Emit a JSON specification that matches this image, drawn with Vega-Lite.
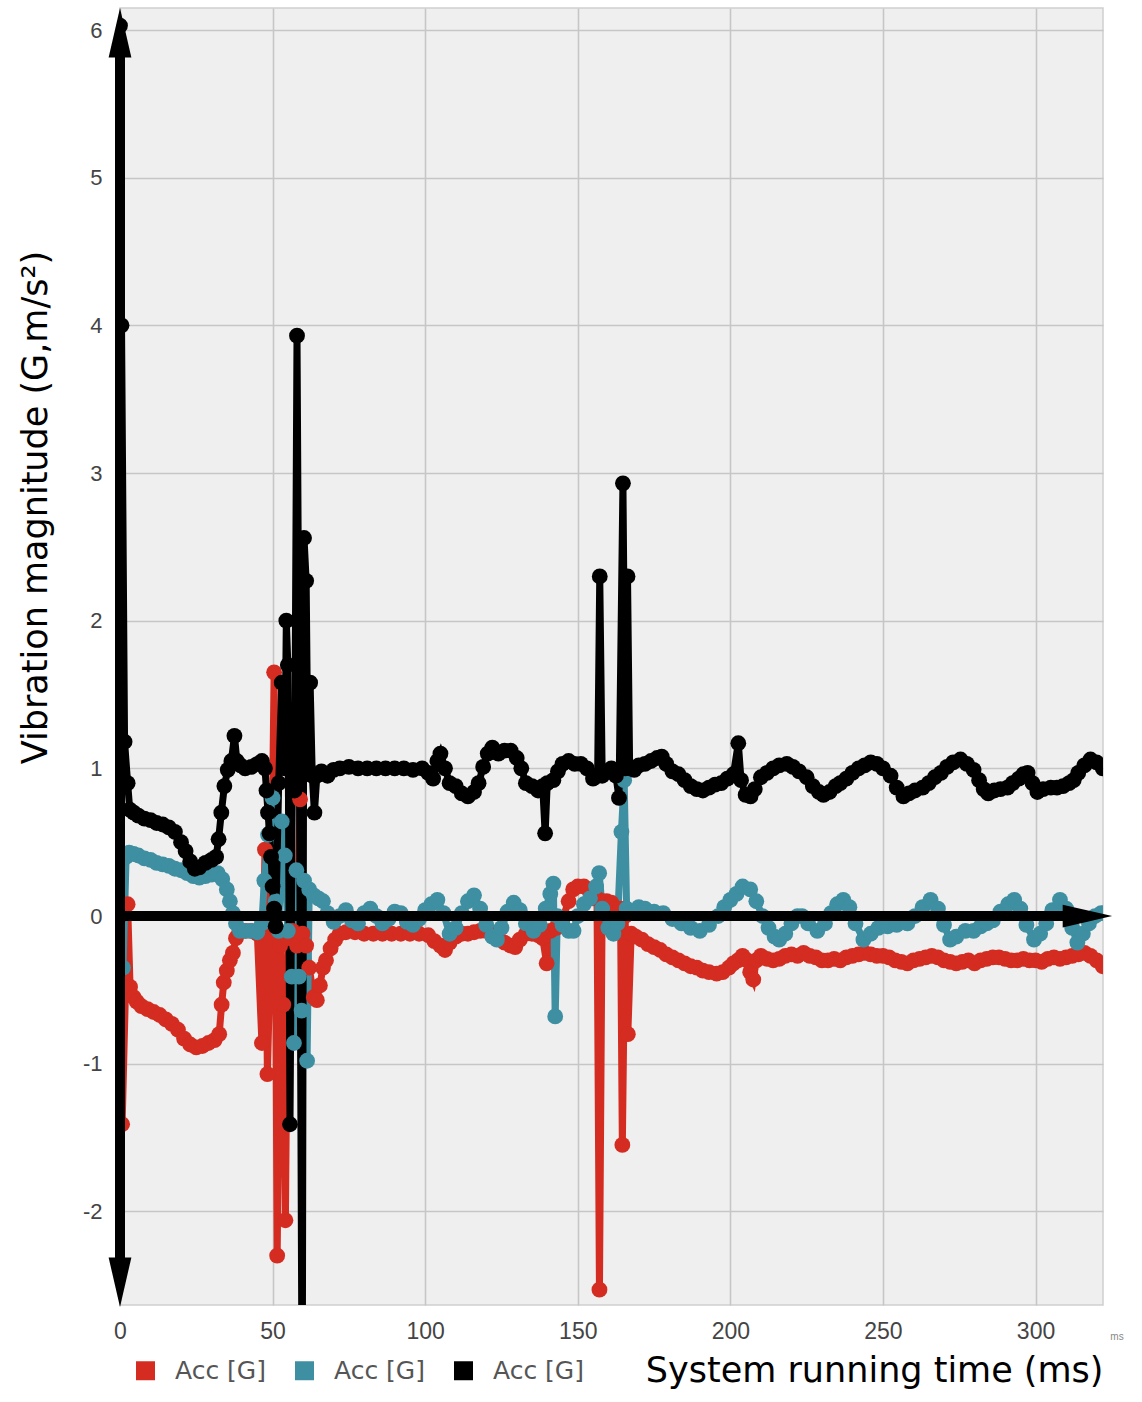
{
"$schema": "https://vega.github.io/schema/vega-lite/v6.json",
"autosize": {"type": "none"},
"width": 983,
"height": 1297,
"padding": {"left": 120, "top": 8, "right": 39, "bottom": 97},
"background": "#ffffff",
"config": {
  "view": {"fill": "#efefef", "stroke": "#cfcfcf", "strokeWidth": 1.5},
  "axis": {"gridColor": "#c6c6c6", "gridWidth": 1.6, "domain": false, "ticks": false, "labelFlush": false}
},
"datasets": {
"acc": [
{"s":"s1","t":0,"v":0},{"s":"s1","t":0.7,"v":-1.41},{"s":"s1","t":2.5,"v":0.08},{"s":"s1","t":3.3,"v":-0.48},{"s":"s1","t":4.5,"v":-0.55},{"s":"s1","t":5.5,"v":-0.58},{"s":"s1","t":7,"v":-0.61},{"s":"s1","t":9,"v":-0.63},{"s":"s1","t":11,"v":-0.65},{"s":"s1","t":13,"v":-0.67},{"s":"s1","t":15,"v":-0.7},{"s":"s1","t":17,"v":-0.73},{"s":"s1","t":19,"v":-0.77},{"s":"s1","t":21,"v":-0.83},{"s":"s1","t":23,"v":-0.87},{"s":"s1","t":25,"v":-0.89},{"s":"s1","t":27,"v":-0.88},{"s":"s1","t":29,"v":-0.86},{"s":"s1","t":31,"v":-0.84},{"s":"s1","t":32.5,"v":-0.8},{"s":"s1","t":33.3,"v":-0.6},{"s":"s1","t":34,"v":-0.45},{"s":"s1","t":35,"v":-0.37},{"s":"s1","t":36,"v":-0.3},{"s":"s1","t":37,"v":-0.25},{"s":"s1","t":38,"v":-0.15},{"s":"s1","t":39,"v":-0.11},{"s":"s1","t":41,"v":-0.1},{"s":"s1","t":43,"v":-0.1},{"s":"s1","t":45,"v":-0.12},{"s":"s1","t":46.5,"v":-0.86},{"s":"s1","t":47.5,"v":0.45},{"s":"s1","t":48.3,"v":-1.07},{"s":"s1","t":49.5,"v":-0.05},{"s":"s1","t":50.5,"v":1.65},{"s":"s1","t":51.5,"v":-2.3},{"s":"s1","t":52.5,"v":-0.2},{"s":"s1","t":53.5,"v":-0.6},{"s":"s1","t":54.2,"v":-2.06},{"s":"s1","t":55,"v":-0.15},{"s":"s1","t":56.5,"v":-0.1},{"s":"s1","t":58,"v":-0.2},{"s":"s1","t":59,"v":0.79},{"s":"s1","t":59.8,"v":-0.12},{"s":"s1","t":61,"v":-0.2},{"s":"s1","t":62,"v":-0.35},{"s":"s1","t":63.5,"v":-0.55},{"s":"s1","t":64.5,"v":-0.57},{"s":"s1","t":65.5,"v":-0.47},{"s":"s1","t":66.5,"v":-0.35},{"s":"s1","t":67.5,"v":-0.3},{"s":"s1","t":69,"v":-0.22},{"s":"s1","t":70.5,"v":-0.16},{"s":"s1","t":72,"v":-0.12},{"s":"s1","t":74,"v":-0.11},{"s":"s1","t":77,"v":-0.11},{"s":"s1","t":80,"v":-0.12},{"s":"s1","t":83,"v":-0.12},{"s":"s1","t":86,"v":-0.12},{"s":"s1","t":89,"v":-0.12},{"s":"s1","t":92,"v":-0.12},{"s":"s1","t":95,"v":-0.12},{"s":"s1","t":98,"v":-0.12},{"s":"s1","t":101,"v":-0.13},{"s":"s1","t":103,"v":-0.17},{"s":"s1","t":105,"v":-0.2},{"s":"s1","t":106.5,"v":-0.23},{"s":"s1","t":108,"v":-0.18},{"s":"s1","t":110,"v":-0.14},{"s":"s1","t":112,"v":-0.12},{"s":"s1","t":114,"v":-0.12},{"s":"s1","t":116,"v":-0.11},{"s":"s1","t":118,"v":-0.1},{"s":"s1","t":120,"v":-0.1},{"s":"s1","t":122,"v":-0.12},{"s":"s1","t":124,"v":-0.15},{"s":"s1","t":126,"v":-0.18},{"s":"s1","t":128,"v":-0.2},{"s":"s1","t":129.5,"v":-0.21},{"s":"s1","t":131,"v":-0.16},{"s":"s1","t":133,"v":-0.12},{"s":"s1","t":135,"v":-0.12},{"s":"s1","t":137,"v":-0.13},{"s":"s1","t":138.5,"v":-0.15},{"s":"s1","t":139.8,"v":-0.32},{"s":"s1","t":141,"v":-0.1},{"s":"s1","t":143,"v":-0.08},{"s":"s1","t":145,"v":-0.02},{"s":"s1","t":147,"v":0.1},{"s":"s1","t":148.5,"v":0.18},{"s":"s1","t":150,"v":0.2},{"s":"s1","t":152,"v":0.2},{"s":"s1","t":153.5,"v":0.18},{"s":"s1","t":155,"v":0.12},{"s":"s1","t":156.3,"v":0.12},{"s":"s1","t":157.1,"v":-2.53},{"s":"s1","t":158,"v":0.1},{"s":"s1","t":159.5,"v":0.1},{"s":"s1","t":161,"v":0.09},{"s":"s1","t":162.5,"v":0.05},{"s":"s1","t":164,"v":0.05},{"s":"s1","t":164.6,"v":-1.55},{"s":"s1","t":165.5,"v":0},{"s":"s1","t":166.4,"v":-0.8},{"s":"s1","t":167.5,"v":-0.12},{"s":"s1","t":169,"v":-0.14},{"s":"s1","t":171,"v":-0.16},{"s":"s1","t":173,"v":-0.19},{"s":"s1","t":175,"v":-0.21},{"s":"s1","t":177,"v":-0.23},{"s":"s1","t":179,"v":-0.26},{"s":"s1","t":181,"v":-0.28},{"s":"s1","t":183,"v":-0.3},{"s":"s1","t":185,"v":-0.32},{"s":"s1","t":187,"v":-0.34},{"s":"s1","t":189,"v":-0.35},{"s":"s1","t":191,"v":-0.37},{"s":"s1","t":193,"v":-0.38},{"s":"s1","t":195.5,"v":-0.39},{"s":"s1","t":197.5,"v":-0.38},{"s":"s1","t":199.5,"v":-0.35},{"s":"s1","t":201,"v":-0.32},{"s":"s1","t":202.5,"v":-0.3},{"s":"s1","t":204,"v":-0.27},{"s":"s1","t":205.5,"v":-0.3},{"s":"s1","t":206.5,"v":-0.38},{"s":"s1","t":207.5,"v":-0.43},{"s":"s1","t":208.5,"v":-0.3},{"s":"s1","t":210,"v":-0.27},{"s":"s1","t":212,"v":-0.29},{"s":"s1","t":214,"v":-0.3},{"s":"s1","t":216,"v":-0.29},{"s":"s1","t":218,"v":-0.27},{"s":"s1","t":220,"v":-0.26},{"s":"s1","t":222,"v":-0.27},{"s":"s1","t":224,"v":-0.25},{"s":"s1","t":226,"v":-0.27},{"s":"s1","t":228,"v":-0.28},{"s":"s1","t":230,"v":-0.3},{"s":"s1","t":232,"v":-0.3},{"s":"s1","t":234,"v":-0.29},{"s":"s1","t":236,"v":-0.3},{"s":"s1","t":238,"v":-0.28},{"s":"s1","t":240,"v":-0.27},{"s":"s1","t":242,"v":-0.26},{"s":"s1","t":244,"v":-0.25},{"s":"s1","t":246,"v":-0.26},{"s":"s1","t":248,"v":-0.27},{"s":"s1","t":250,"v":-0.27},{"s":"s1","t":252,"v":-0.28},{"s":"s1","t":254,"v":-0.3},{"s":"s1","t":256,"v":-0.31},{"s":"s1","t":258,"v":-0.32},{"s":"s1","t":260,"v":-0.3},{"s":"s1","t":262,"v":-0.29},{"s":"s1","t":264,"v":-0.28},{"s":"s1","t":266,"v":-0.27},{"s":"s1","t":268,"v":-0.28},{"s":"s1","t":270,"v":-0.3},{"s":"s1","t":272,"v":-0.31},{"s":"s1","t":274,"v":-0.32},{"s":"s1","t":276,"v":-0.31},{"s":"s1","t":278,"v":-0.3},{"s":"s1","t":280,"v":-0.32},{"s":"s1","t":282,"v":-0.3},{"s":"s1","t":284,"v":-0.29},{"s":"s1","t":286,"v":-0.28},{"s":"s1","t":288,"v":-0.28},{"s":"s1","t":290,"v":-0.29},{"s":"s1","t":292,"v":-0.3},{"s":"s1","t":294,"v":-0.3},{"s":"s1","t":296,"v":-0.29},{"s":"s1","t":298,"v":-0.3},{"s":"s1","t":300,"v":-0.3},{"s":"s1","t":302,"v":-0.31},{"s":"s1","t":304,"v":-0.29},{"s":"s1","t":306,"v":-0.28},{"s":"s1","t":308,"v":-0.29},{"s":"s1","t":310,"v":-0.28},{"s":"s1","t":312,"v":-0.27},{"s":"s1","t":314,"v":-0.26},{"s":"s1","t":316,"v":-0.25},{"s":"s1","t":318,"v":-0.27},{"s":"s1","t":320,"v":-0.3},{"s":"s1","t":322,"v":-0.34},
{"s":"s2","t":0,"v":0.25},{"s":"s2","t":1,"v":-0.35},{"s":"s2","t":2,"v":0.4},{"s":"s2","t":3,"v":0.43},{"s":"s2","t":4.5,"v":0.42},{"s":"s2","t":6,"v":0.41},{"s":"s2","t":8,"v":0.39},{"s":"s2","t":10,"v":0.38},{"s":"s2","t":12,"v":0.36},{"s":"s2","t":14,"v":0.35},{"s":"s2","t":16,"v":0.34},{"s":"s2","t":18,"v":0.32},{"s":"s2","t":20,"v":0.31},{"s":"s2","t":22,"v":0.29},{"s":"s2","t":24,"v":0.27},{"s":"s2","t":26,"v":0.26},{"s":"s2","t":28,"v":0.27},{"s":"s2","t":30,"v":0.28},{"s":"s2","t":32,"v":0.29},{"s":"s2","t":33.5,"v":0.25},{"s":"s2","t":35,"v":0.18},{"s":"s2","t":36,"v":0.1},{"s":"s2","t":37,"v":0.02},{"s":"s2","t":38,"v":-0.05},{"s":"s2","t":39.3,"v":-0.1},{"s":"s2","t":41,"v":-0.1},{"s":"s2","t":43,"v":-0.1},{"s":"s2","t":45,"v":-0.11},{"s":"s2","t":46.5,"v":-0.05},{"s":"s2","t":47.3,"v":0.24},{"s":"s2","t":48.5,"v":0.55},{"s":"s2","t":50,"v":0.8},{"s":"s2","t":51,"v":0.1},{"s":"s2","t":52,"v":-0.1},{"s":"s2","t":53,"v":0.64},{"s":"s2","t":54,"v":0.41},{"s":"s2","t":55,"v":-0.1},{"s":"s2","t":56.3,"v":-0.41},{"s":"s2","t":57,"v":-0.86},{"s":"s2","t":57.8,"v":0.31},{"s":"s2","t":58.6,"v":-0.41},{"s":"s2","t":59.5,"v":-0.64},{"s":"s2","t":60.3,"v":0.24},{"s":"s2","t":61.3,"v":-0.98},{"s":"s2","t":62,"v":0.18},{"s":"s2","t":63.5,"v":0.14},{"s":"s2","t":65,"v":0.12},{"s":"s2","t":66.5,"v":0.1},{"s":"s2","t":68,"v":0.02},{"s":"s2","t":70,"v":-0.04},{"s":"s2","t":72,"v":0},{"s":"s2","t":74,"v":0.04},{"s":"s2","t":76,"v":-0.03},{"s":"s2","t":78,"v":-0.05},{"s":"s2","t":80,"v":0.02},{"s":"s2","t":82,"v":0.05},{"s":"s2","t":84,"v":0},{"s":"s2","t":86,"v":-0.05},{"s":"s2","t":88,"v":-0.02},{"s":"s2","t":90,"v":0.03},{"s":"s2","t":92,"v":0.02},{"s":"s2","t":94,"v":-0.04},{"s":"s2","t":96,"v":-0.06},{"s":"s2","t":98,"v":-0.02},{"s":"s2","t":100,"v":0.04},{"s":"s2","t":102,"v":0.08},{"s":"s2","t":104,"v":0.11},{"s":"s2","t":106,"v":0.02},{"s":"s2","t":108,"v":-0.12},{"s":"s2","t":110,"v":-0.08},{"s":"s2","t":112,"v":0.02},{"s":"s2","t":114,"v":0.1},{"s":"s2","t":116,"v":0.14},{"s":"s2","t":118,"v":0.05},{"s":"s2","t":120,"v":-0.06},{"s":"s2","t":122,"v":-0.14},{"s":"s2","t":123.5,"v":-0.16},{"s":"s2","t":125,"v":-0.08},{"s":"s2","t":127,"v":0.03},{"s":"s2","t":129,"v":0.09},{"s":"s2","t":131,"v":0.04},{"s":"s2","t":133,"v":-0.05},{"s":"s2","t":135.5,"v":-0.1},{"s":"s2","t":137.5,"v":-0.06},{"s":"s2","t":139.5,"v":0.05},{"s":"s2","t":141,"v":0.15},{"s":"s2","t":142,"v":0.22},{"s":"s2","t":142.6,"v":-0.68},{"s":"s2","t":143.3,"v":0},{"s":"s2","t":145,"v":-0.06},{"s":"s2","t":147,"v":-0.1},{"s":"s2","t":148.6,"v":-0.1},{"s":"s2","t":150,"v":0},{"s":"s2","t":152,"v":0.08},{"s":"s2","t":154,"v":0.12},{"s":"s2","t":156,"v":0.2},{"s":"s2","t":157,"v":0.29},{"s":"s2","t":158,"v":0.05},{"s":"s2","t":160,"v":-0.08},{"s":"s2","t":161.7,"v":-0.12},{"s":"s2","t":163,"v":-0.05},{"s":"s2","t":164.3,"v":0.57},{"s":"s2","t":165.2,"v":0.92},{"s":"s2","t":166,"v":0.05},{"s":"s2","t":168,"v":0.02},{"s":"s2","t":170,"v":0.06},{"s":"s2","t":172,"v":0.05},{"s":"s2","t":175,"v":0.03},{"s":"s2","t":178,"v":0.02},{"s":"s2","t":181,"v":-0.02},{"s":"s2","t":184,"v":-0.05},{"s":"s2","t":187,"v":-0.08},{"s":"s2","t":190,"v":-0.1},{"s":"s2","t":193,"v":-0.06},{"s":"s2","t":196,"v":0},{"s":"s2","t":198,"v":0.06},{"s":"s2","t":200,"v":0.11},{"s":"s2","t":202,"v":0.15},{"s":"s2","t":204,"v":0.2},{"s":"s2","t":206.5,"v":0.18},{"s":"s2","t":208.5,"v":0.1},{"s":"s2","t":210.5,"v":0},{"s":"s2","t":212.5,"v":-0.08},{"s":"s2","t":214.5,"v":-0.14},{"s":"s2","t":216,"v":-0.16},{"s":"s2","t":218,"v":-0.12},{"s":"s2","t":220,"v":-0.05},{"s":"s2","t":222,"v":0},{"s":"s2","t":223.5,"v":0},{"s":"s2","t":225.5,"v":-0.05},{"s":"s2","t":228.5,"v":-0.1},{"s":"s2","t":231,"v":-0.05},{"s":"s2","t":233,"v":0.02},{"s":"s2","t":235,"v":0.08},{"s":"s2","t":237,"v":0.11},{"s":"s2","t":239,"v":0.06},{"s":"s2","t":241,"v":-0.05},{"s":"s2","t":243.6,"v":-0.16},{"s":"s2","t":246,"v":-0.12},{"s":"s2","t":248.5,"v":-0.08},{"s":"s2","t":251.5,"v":-0.07},{"s":"s2","t":254.5,"v":-0.06},{"s":"s2","t":258,"v":-0.05},{"s":"s2","t":260.5,"v":0},{"s":"s2","t":263,"v":0.06},{"s":"s2","t":265.6,"v":0.11},{"s":"s2","t":268,"v":0.05},{"s":"s2","t":270,"v":-0.06},{"s":"s2","t":272,"v":-0.16},{"s":"s2","t":274,"v":-0.14},{"s":"s2","t":277,"v":-0.1},{"s":"s2","t":279.7,"v":-0.1},{"s":"s2","t":282,"v":-0.07},{"s":"s2","t":284,"v":-0.05},{"s":"s2","t":286,"v":-0.03},{"s":"s2","t":288.5,"v":0.03},{"s":"s2","t":291,"v":0.08},{"s":"s2","t":293,"v":0.11},{"s":"s2","t":295,"v":0.05},{"s":"s2","t":297,"v":-0.06},{"s":"s2","t":299.5,"v":-0.16},{"s":"s2","t":301.5,"v":-0.12},{"s":"s2","t":303.5,"v":-0.05},{"s":"s2","t":305.5,"v":0.04},{"s":"s2","t":308,"v":0.11},{"s":"s2","t":310,"v":0.05},{"s":"s2","t":312,"v":-0.08},{"s":"s2","t":313.7,"v":-0.18},{"s":"s2","t":315.5,"v":-0.12},{"s":"s2","t":317.5,"v":-0.05},{"s":"s2","t":319.5,"v":0},{"s":"s2","t":321.5,"v":0.02},
{"s":"s3","t":0,"v":6.03},{"s":"s3","t":0.5,"v":4.0},{"s":"s3","t":1.5,"v":1.18},{"s":"s3","t":2.5,"v":0.9},{"s":"s3","t":3.2,"v":0.72},{"s":"s3","t":4.5,"v":0.7},{"s":"s3","t":6,"v":0.68},{"s":"s3","t":8,"v":0.66},{"s":"s3","t":10,"v":0.65},{"s":"s3","t":12,"v":0.63},{"s":"s3","t":14,"v":0.62},{"s":"s3","t":16,"v":0.6},{"s":"s3","t":18,"v":0.57},{"s":"s3","t":20,"v":0.5},{"s":"s3","t":21.5,"v":0.44},{"s":"s3","t":23,"v":0.37},{"s":"s3","t":24.5,"v":0.32},{"s":"s3","t":26,"v":0.33},{"s":"s3","t":28,"v":0.36},{"s":"s3","t":30,"v":0.38},{"s":"s3","t":31.5,"v":0.4},{"s":"s3","t":32.3,"v":0.52},{"s":"s3","t":33.2,"v":0.7},{"s":"s3","t":34.2,"v":0.88},{"s":"s3","t":35.3,"v":0.99},{"s":"s3","t":36.5,"v":1.05},{"s":"s3","t":37.5,"v":1.22},{"s":"s3","t":38.3,"v":1.05},{"s":"s3","t":39.5,"v":1.02},{"s":"s3","t":41,"v":1.0},{"s":"s3","t":43,"v":1.01},{"s":"s3","t":45,"v":1.03},{"s":"s3","t":46.5,"v":1.05},{"s":"s3","t":47.5,"v":1.0},{"s":"s3","t":48,"v":0.85},{"s":"s3","t":48.5,"v":0.7},{"s":"s3","t":49,"v":0.56},{"s":"s3","t":49.5,"v":0.4},{"s":"s3","t":50,"v":0.2},{"s":"s3","t":50.5,"v":0.05},{"s":"s3","t":51,"v":-0.07},{"s":"s3","t":52,"v":0.9},{"s":"s3","t":53,"v":1.58},{"s":"s3","t":54,"v":1.0},{"s":"s3","t":54.5,"v":2.0},{"s":"s3","t":55,"v":1.7},{"s":"s3","t":55.7,"v":-1.41},{"s":"s3","t":56.5,"v":1.0},{"s":"s3","t":57.2,"v":0.85},{"s":"s3","t":58,"v":3.93},{"s":"s3","t":58.8,"v":1.0},{"s":"s3","t":59.7,"v":-3.5},{"s":"s3","t":60.3,"v":2.56},{"s":"s3","t":61,"v":2.27},{"s":"s3","t":61.6,"v":1.0},{"s":"s3","t":62.3,"v":1.58},{"s":"s3","t":63,"v":0.95},{"s":"s3","t":63.7,"v":0.7},{"s":"s3","t":64.5,"v":0.95},{"s":"s3","t":66,"v":0.98},{"s":"s3","t":68,"v":0.95},{"s":"s3","t":70,"v":0.99},{"s":"s3","t":72,"v":1.0},{"s":"s3","t":75,"v":1.01},{"s":"s3","t":78,"v":1.0},{"s":"s3","t":81,"v":1.0},{"s":"s3","t":84,"v":1.0},{"s":"s3","t":87,"v":1.0},{"s":"s3","t":90,"v":1.0},{"s":"s3","t":93,"v":1.0},{"s":"s3","t":96,"v":0.99},{"s":"s3","t":99,"v":1.0},{"s":"s3","t":101,"v":0.97},{"s":"s3","t":102.6,"v":0.93},{"s":"s3","t":104,"v":1.05},{"s":"s3","t":105,"v":1.1},{"s":"s3","t":106.5,"v":1.0},{"s":"s3","t":108,"v":0.9},{"s":"s3","t":110,"v":0.88},{"s":"s3","t":112,"v":0.83},{"s":"s3","t":114,"v":0.81},{"s":"s3","t":116,"v":0.84},{"s":"s3","t":117.5,"v":0.9},{"s":"s3","t":119,"v":1.01},{"s":"s3","t":120.5,"v":1.1},{"s":"s3","t":122,"v":1.14},{"s":"s3","t":124,"v":1.1},{"s":"s3","t":126,"v":1.12},{"s":"s3","t":128,"v":1.12},{"s":"s3","t":130,"v":1.07},{"s":"s3","t":131.5,"v":1.0},{"s":"s3","t":133,"v":0.9},{"s":"s3","t":135,"v":0.88},{"s":"s3","t":137,"v":0.85},{"s":"s3","t":138.5,"v":0.88},{"s":"s3","t":139.3,"v":0.56},{"s":"s3","t":140,"v":0.9},{"s":"s3","t":142,"v":0.92},{"s":"s3","t":143.5,"v":0.98},{"s":"s3","t":145,"v":1.03},{"s":"s3","t":147,"v":1.05},{"s":"s3","t":149,"v":1.03},{"s":"s3","t":151,"v":1.03},{"s":"s3","t":153,"v":1.0},{"s":"s3","t":155,"v":0.93},{"s":"s3","t":156.5,"v":0.95},{"s":"s3","t":157.2,"v":2.3},{"s":"s3","t":158,"v":0.95},{"s":"s3","t":159.5,"v":0.98},{"s":"s3","t":161,"v":1.0},{"s":"s3","t":162.5,"v":0.95},{"s":"s3","t":163.5,"v":0.8},{"s":"s3","t":164.8,"v":2.93},{"s":"s3","t":165.6,"v":1.0},{"s":"s3","t":166.3,"v":2.3},{"s":"s3","t":167,"v":1.0},{"s":"s3","t":168.5,"v":0.99},{"s":"s3","t":170,"v":1.02},{"s":"s3","t":172,"v":1.03},{"s":"s3","t":174,"v":1.05},{"s":"s3","t":176,"v":1.07},{"s":"s3","t":177.5,"v":1.08},{"s":"s3","t":179,"v":1.03},{"s":"s3","t":181,"v":0.98},{"s":"s3","t":183,"v":0.96},{"s":"s3","t":185,"v":0.92},{"s":"s3","t":187,"v":0.88},{"s":"s3","t":189,"v":0.86},{"s":"s3","t":191,"v":0.85},{"s":"s3","t":193,"v":0.87},{"s":"s3","t":195,"v":0.89},{"s":"s3","t":197,"v":0.9},{"s":"s3","t":199,"v":0.93},{"s":"s3","t":201,"v":0.96},{"s":"s3","t":202.6,"v":1.17},{"s":"s3","t":203.5,"v":0.92},{"s":"s3","t":205,"v":0.82},{"s":"s3","t":206.6,"v":0.81},{"s":"s3","t":208,"v":0.86},{"s":"s3","t":210,"v":0.94},{"s":"s3","t":212,"v":0.97},{"s":"s3","t":214,"v":1.0},{"s":"s3","t":216,"v":1.02},{"s":"s3","t":218.5,"v":1.03},{"s":"s3","t":220.5,"v":1.01},{"s":"s3","t":222.5,"v":0.98},{"s":"s3","t":225,"v":0.94},{"s":"s3","t":227,"v":0.88},{"s":"s3","t":229,"v":0.84},{"s":"s3","t":230.5,"v":0.82},{"s":"s3","t":232.5,"v":0.84},{"s":"s3","t":234.5,"v":0.88},{"s":"s3","t":236,"v":0.9},{"s":"s3","t":238,"v":0.93},{"s":"s3","t":240,"v":0.97},{"s":"s3","t":242,"v":1.0},{"s":"s3","t":244,"v":1.02},{"s":"s3","t":246,"v":1.04},{"s":"s3","t":248,"v":1.03},{"s":"s3","t":250,"v":1.0},{"s":"s3","t":252.5,"v":0.95},{"s":"s3","t":254.5,"v":0.87},{"s":"s3","t":256.7,"v":0.81},{"s":"s3","t":258.5,"v":0.83},{"s":"s3","t":260.5,"v":0.85},{"s":"s3","t":263,"v":0.87},{"s":"s3","t":265,"v":0.9},{"s":"s3","t":267,"v":0.94},{"s":"s3","t":269,"v":0.97},{"s":"s3","t":271,"v":1.01},{"s":"s3","t":273,"v":1.04},{"s":"s3","t":275.4,"v":1.06},{"s":"s3","t":277.5,"v":1.03},{"s":"s3","t":279.7,"v":0.99},{"s":"s3","t":281.5,"v":0.92},{"s":"s3","t":283,"v":0.86},{"s":"s3","t":284.5,"v":0.83},{"s":"s3","t":286.5,"v":0.85},{"s":"s3","t":288.5,"v":0.86},{"s":"s3","t":290.8,"v":0.87},{"s":"s3","t":292.5,"v":0.9},{"s":"s3","t":294.5,"v":0.93},{"s":"s3","t":296,"v":0.96},{"s":"s3","t":297.4,"v":0.97},{"s":"s3","t":299,"v":0.9},{"s":"s3","t":300.6,"v":0.84},{"s":"s3","t":302.5,"v":0.86},{"s":"s3","t":305,"v":0.87},{"s":"s3","t":307,"v":0.87},{"s":"s3","t":309,"v":0.88},{"s":"s3","t":311,"v":0.9},{"s":"s3","t":312.5,"v":0.92},{"s":"s3","t":314,"v":0.97},{"s":"s3","t":316,"v":1.02},{"s":"s3","t":318,"v":1.06},{"s":"s3","t":320,"v":1.04},{"s":"s3","t":322,"v":1.0}
],
"shafts": [
{"t":0,"v":-2.45,"t2":0,"v2":5.95},
{"t":0,"v":0,"t2":316,"v2":0}
],
"heads": [
{"dir":"up","t":0,"v":5.982},
{"dir":"down","t":0,"v":-2.48},
{"dir":"right","t":317.0,"v":0}
],
"notes": [
{"t":326.7,"v":-2.634,"label":"ms"}
]
},
"encoding": {
  "x": {"field":"t","type":"quantitative","scale":{"domain":[0,322.1],"nice":false,"zero":false},
        "axis":{"values":[0,50,100,150,200,250,300],"grid":true,"labelFont":"Liberation Sans","labelFontSize":23,"labelColor":"#444444","labelPadding":15,
                "title":"System running time (ms)","titleFont":"DejaVu Sans","titleFontSize":35,"titleFontWeight":"normal","titleColor":"#000000","titleAnchor":"end","titlePadding":10}},
  "y": {"field":"v","type":"quantitative","scale":{"domain":[-2.634,6.149],"nice":false,"zero":false},
        "axis":{"values":[-2,-1,0,1,2,3,4,5,6],"grid":true,"labelExpr":"toString(datum.value)","labelFont":"Liberation Sans","labelFontSize":22,"labelColor":"#444444","labelPadding":18,
                "title":"Vibration magnitude (G,m/s²)","titleFont":"DejaVu Sans","titleFontSize":35,"titleFontWeight":"normal","titleColor":"#000000",
                "titleX":-85,"titleY":499,"titleAngle":270,"titleAlign":"center","titleBaseline":"middle"}}
},
"resolve": {"legend": {"color": "independent"}},
"layer": [
  {"data":{"name":"acc"},
   "mark":{"type":"line","strokeWidth":7,"clip":true,"interpolate":"linear"},
   "encoding":{"color":{"field":"s","type":"nominal","scale":{"domain":["s1","s2","s3"],"range":["#d42c20","#3d8fa1","#000000"]},"legend":null}}},
  {"data":{"name":"acc"},
   "mark":{"type":"point","filled":true,"size":250,"opacity":1,"clip":true,"strokeWidth":0},
   "encoding":{"color":{"field":"s","type":"nominal","scale":{"domain":["s1","s2","s3"],"range":["#d42c20","#3d8fa1","#000000"]},
      "legend":{"title":null,"orient":"none","legendX":13,"legendY":1350,"direction":"horizontal","symbolType":"square","symbolSize":361,"symbolStrokeWidth":0,
                "labelExpr":"'Acc [G]'","labelFont":"DejaVu Sans","labelFontSize":25,"labelColor":"#555555","labelOffset":17,"columnPadding":26,"padding":0}}}},
  {"data":{"name":"shafts"},
   "mark":{"type":"rule","color":"#000000","strokeWidth":10,"clip":false},
   "encoding":{"x":{"field":"t","type":"quantitative"},"x2":{"field":"t2"},"y":{"field":"v","type":"quantitative"},"y2":{"field":"v2"}}},
  {"data":{"name":"heads"},
   "mark":{"type":"point","filled":true,"size":2450,"opacity":1,"color":"#000000","clip":false,"strokeWidth":0},
   "encoding":{"shape":{"field":"dir","type":"nominal","scale":{"domain":["up","down","right"],"range":["M0,-1L0.46,1L-0.46,1Z","M0,1L0.46,-1L-0.46,-1Z","M1,0L-1,0.46L-1,-0.46Z"]},"legend":null}}},
  {"data":{"name":"notes"},
   "mark":{"type":"text","fontSize":10,"color":"#888888","font":"Liberation Sans","dy":32,"align":"center","baseline":"middle","clip":false},
   "encoding":{"text":{"field":"label"}}}
]
}
